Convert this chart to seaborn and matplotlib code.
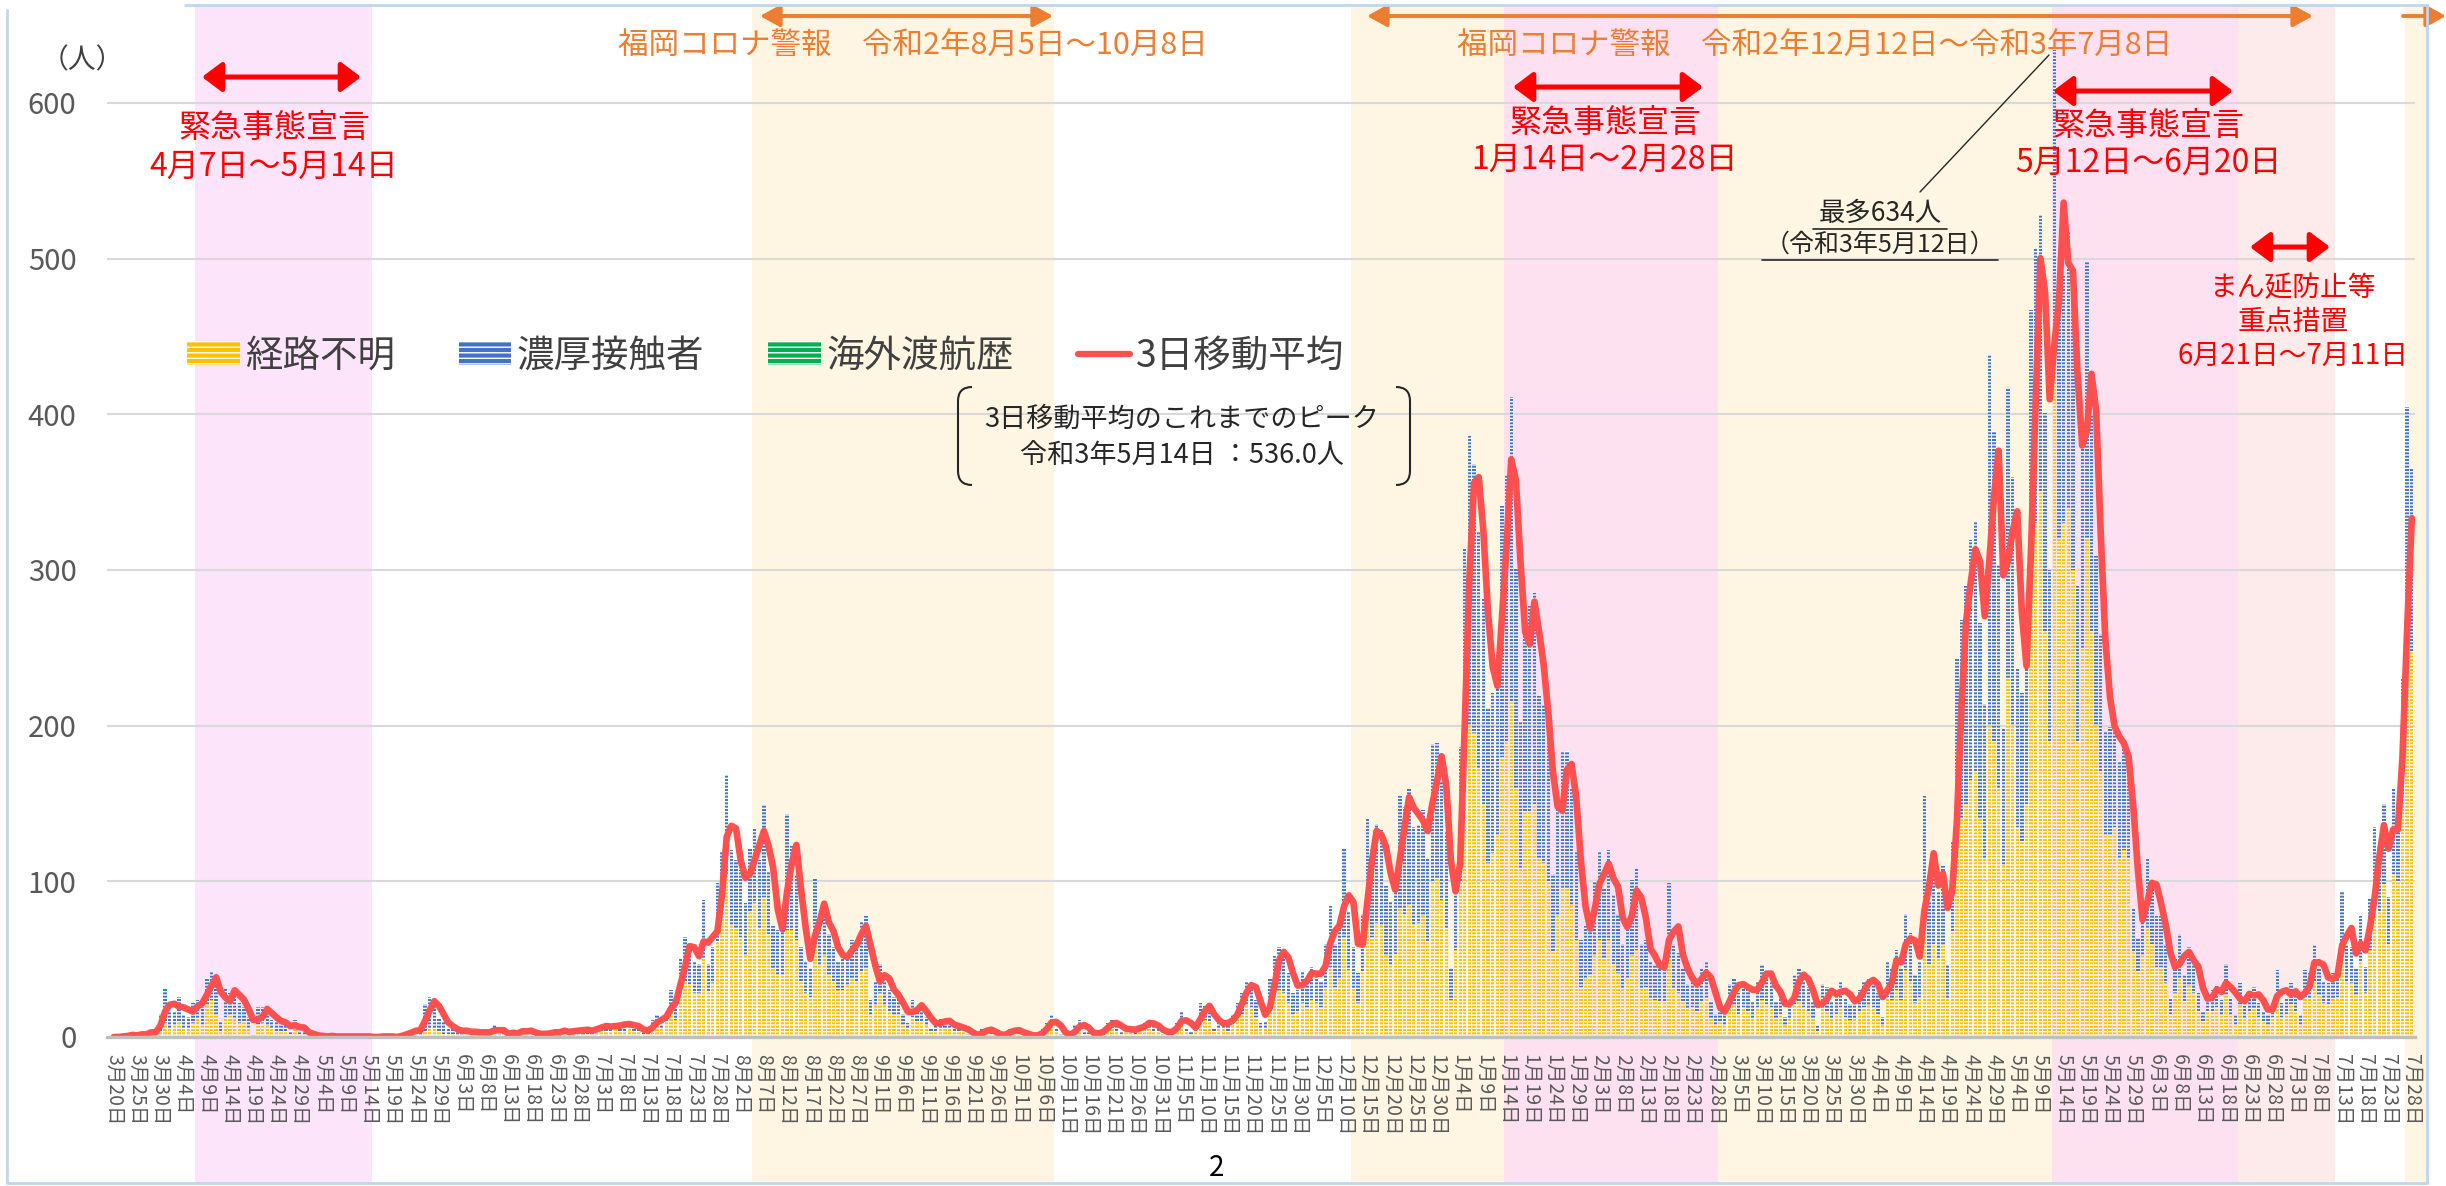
import numpy as np
import pandas as pd
import matplotlib
matplotlib.use('Agg')
import matplotlib.pyplot as plt
import seaborn as sns
from matplotlib.patches import Patch, Rectangle, FancyArrowPatch, PathPatch
from matplotlib.lines import Line2D
from matplotlib.path import Path
from matplotlib.transforms import blended_transform_factory

# ---- data: daily new cases, 2020-03-20 .. 2021-07-28 (one line per month) ----
START_DATE = '2020-03-20'

total_cases = [
    0, 0, 1, 1, 2, 0, 3, 2, 4, 3, 15, 31,                                                              # 2020-03
    16, 17, 26, 14, 13, 22, 24, 19, 38, 42, 35, 10, 31, 28, 31, 22, 19, 13, 1, 19, 19, 16, 11, 11, 9, 8, 4, 11, 4, 3,  # 04
    2, 1, 0, 1, 0, 1, 0, 0, 1, 0, 0, 1, 0, 0, 0, 0, 1, 0, 0, 0, 2, 3, 3, 6, 4, 21, 26, 22, 12, 10, 6,  # 05
    5, 4, 3, 5, 2, 3, 4, 2, 3, 8, 2, 3, 1, 4, 2, 5, 4, 3, 1, 2, 3, 2, 4, 3, 5, 2, 4, 6, 3, 5,          # 06
    4, 6, 8, 7, 5, 9, 8, 7, 10, 6, 5, 4, 3, 11, 14, 8, 17, 30, 19, 51, 64, 60, 49, 47, 88, 47, 58, 99, 119, 168, 120,  # 07
    114, 107, 86, 121, 134, 114, 149, 106, 71, 69, 68, 143, 123, 104, 58, 49, 44, 102, 75, 80, 66, 58, 49, 51, 54, 62, 62, 74, 78, 24, 36,  # 08
    47, 36, 30, 26, 25, 15, 9, 24, 19, 18, 13, 6, 8, 12, 10, 9, 5, 7, 6, 2, 1, 1, 5, 6, 3, 1, 1, 2, 6, 4,  # 09
    3, 2, 1, 0, 2, 5, 9, 14, 6, 2, 1, 1, 8, 11, 4, 3, 1, 3, 5, 9, 11, 7, 4, 5, 6, 3, 8, 9, 10, 7, 5,  # 10
    2, 3, 5, 9, 17, 6, 4, 8, 22, 20, 18, 6, 9, 11, 7, 14, 22, 28, 36, 36, 24, 9, 10, 38, 52, 58, 54, 41, 28, 30,  # 11
    42, 36, 45, 41, 36, 60, 84, 60, 71, 121, 81, 58, 41, 79, 140, 120, 137, 133, 97, 87, 100, 155, 148, 159, 135, 136, 146, 115, 188, 189, 164,  # 12
    132, 44, 105, 186, 314, 386, 368, 325, 282, 211, 221, 245, 341, 361, 411, 301, 203, 277, 277, 285, 219, 213, 191, 105, 148, 183, 184, 159, 119, 62, 71,  # 2021-01
    76, 100, 119, 95, 120, 91, 79, 60, 73, 101, 108, 60, 62, 48, 46, 44, 44, 99, 60, 54, 44, 34, 36, 32, 44, 48, 23, 15,  # 02
    19, 15, 34, 38, 28, 36, 32, 23, 36, 46, 40, 36, 23, 28, 13, 23, 40, 44, 36, 32, 23, 7, 34, 32, 23, 28, 36, 25, 21, 23, 30,  # 03
    36, 38, 36, 28, 13, 48, 44, 56, 44, 79, 67, 40, 48, 155, 87, 112, 93, 110, 46, 126, 243, 268, 290, 319, 331, 266, 214, 438, 389, 303,  # 04
    198, 416, 360, 237, 221, 257, 467, 506, 528, 401, 300, 634, 485, 489, 518, 470, 290, 380, 498, 400, 309, 259, 196, 199, 203, 177, 186, 177, 82, 63, 81,  # 05
    115, 101, 78, 78, 60, 25, 50, 66, 40, 58, 50, 28, 17, 29, 30, 33, 24, 47, 25, 14, 35, 20, 28, 32, 22, 17, 14, 22, 43, 22,  # 06
    25, 35, 28, 14, 43, 41, 59, 44, 36, 35, 41, 43, 93, 59, 58, 44, 78, 45, 89, 135, 123, 150, 90, 160, 150, 230, 405, 365,  # 07
]

unknown_route = [
    0, 0, 0, 0, 0, 0, 1, 0, 1, 1, 4, 9,
    5, 8, 10, 6, 5, 9, 12, 8, 20, 24, 14, 4, 13, 14, 12, 9, 10, 6, 0, 8, 9, 7, 5, 4, 4, 3, 2, 5, 2, 1,
    1, 0, 0, 0, 0, 1, 0, 0, 0, 0, 0, 0, 0, 0, 0, 0, 0, 0, 0, 0, 1, 1, 1, 2, 1, 4, 5, 6, 3, 2, 2,
    2, 1, 1, 2, 1, 1, 2, 1, 1, 3, 1, 1, 0, 2, 1, 2, 2, 1, 0, 1, 1, 1, 2, 1, 2, 1, 2, 3, 1, 2,
    2, 3, 4, 4, 3, 5, 4, 4, 6, 3, 3, 2, 2, 6, 8, 5, 10, 17, 11, 30, 36, 34, 28, 28, 51, 29, 35, 61, 90, 104, 72,
    70, 64, 52, 80, 86, 70, 90, 66, 44, 40, 40, 69, 69, 62, 36, 28, 26, 60, 46, 52, 40, 36, 30, 30, 33, 38, 36, 42, 44, 14, 20,
    28, 20, 17, 14, 14, 8, 5, 13, 10, 10, 7, 3, 4, 6, 5, 5, 3, 4, 3, 1, 1, 0, 3, 3, 2, 0, 1, 1, 3, 2,
    2, 1, 1, 0, 1, 3, 5, 7, 3, 1, 1, 0, 4, 6, 2, 2, 0, 2, 3, 5, 6, 4, 2, 3, 3, 2, 4, 5, 5, 4, 3,
    1, 2, 3, 5, 9, 3, 2, 4, 12, 11, 10, 3, 5, 6, 4, 7, 12, 15, 20, 19, 13, 5, 5, 20, 28, 30, 28, 22, 15, 16,
    22, 19, 24, 22, 19, 32, 45, 32, 38, 64, 43, 31, 22, 42, 75, 64, 73, 71, 52, 46, 53, 83, 79, 85, 72, 73, 78, 61, 100, 102, 88,
    70, 24, 56, 100, 170, 200, 195, 172, 150, 112, 118, 130, 180, 190, 215, 160, 108, 145, 145, 150, 115, 112, 100, 55, 78, 96, 96, 84, 62, 32, 37,
    40, 52, 62, 50, 62, 47, 41, 31, 38, 52, 56, 31, 32, 25, 24, 23, 23, 51, 31, 28, 23, 18, 19, 17, 23, 25, 12, 8,
    10, 8, 18, 20, 15, 19, 17, 12, 19, 24, 21, 19, 12, 15, 7, 12, 21, 23, 19, 17, 12, 4, 18, 17, 12, 15, 19, 13, 11, 12, 16,
    19, 20, 19, 15, 7, 26, 24, 30, 24, 43, 36, 22, 26, 84, 47, 60, 50, 59, 25, 68, 125, 140, 150, 165, 170, 140, 115, 200, 190, 160,
    110, 230, 200, 135, 125, 150, 290, 330, 350, 260, 190, 445, 320, 330, 340, 300, 190, 250, 320, 260, 200, 170, 130, 130, 135, 115, 120, 115, 55, 42, 52,
    70, 60, 45, 45, 35, 15, 28, 38, 23, 33, 28, 16, 10, 17, 17, 19, 14, 27, 14, 8, 20, 12, 16, 18, 13, 10, 8, 13, 25, 13,
    15, 21, 17, 8, 26, 25, 36, 27, 22, 21, 25, 26, 56, 36, 35, 27, 48, 28, 56, 85, 80, 98, 60, 105, 100, 155, 270, 248,
]

# overseas travel history: only the first days of the series, zero afterwards
overseas_early = [0, 0, 1, 0, 1, 0, 1, 1, 2, 1, 2, 2, 0, 2]

# shaded periods (start, end) and their kind
periods = [
    ('2020-08-05', '2020-10-08', 'alert'),
    ('2020-12-12', '2021-07-08', 'alert'),
    ('2021-07-27', '2021-07-31', 'alert'),
    ('2020-04-07', '2020-05-14', 'emergency1'),
    ('2021-01-14', '2021-02-28', 'emergency'),
    ('2021-05-12', '2021-06-20', 'emergency'),
    ('2021-06-21', '2021-07-11', 'priority'),
]

legend_labels = ['経路不明', '濃厚接触者', '海外渡航歴', '3日移動平均']

# ---- styles ----
YELLOW, BLUE, GREEN, RED = '#FFC000', '#4472C4', '#00B050', '#FF5050'
ORANGE = '#ED7D31'
SPAN_COLORS = {'alert': '#FEF6E2', 'emergency1': '#FCE4FB',
               'emergency': '#FDE1F0', 'priority': '#FDEAEA'}
W, H = 2446, 1186
PX_PER_DAY = 4.642
X0 = 114  # pixel of first bar


def fx(px):
    return px / W


def fy(py):
    return 1 - py / H


n = len(total_cases)
assert len(unknown_route) == n == 496
overseas = np.pad(np.array(overseas_early), (0, n - len(overseas_early)))

df = pd.DataFrame({'day': np.arange(n), 'total': total_cases,
                   'unknown': unknown_route, 'overseas': overseas})
df['contact'] = df['total'] - df['unknown'] - df['overseas']
df['unknown_contact'] = df['unknown'] + df['contact']
df['ma3'] = df['total'].rolling(3, min_periods=1).mean()

start = pd.Timestamp(START_DATE)
dates = pd.date_range(START_DATE, periods=n)

sns.set_style('white')
plt.rcParams['font.family'] = ['Noto Sans CJK JP', 'DejaVu Sans']
plt.rcParams['hatch.linewidth'] = 1.0

fig = plt.figure(figsize=(W / 100, H / 100), dpi=100)
xmin, xmax = -1.5, 495.6
left = X0 + xmin * PX_PER_DAY
right = X0 + xmax * PX_PER_DAY
ymax = 660
px_per_unit = (1037 - 103) / 600
ax = fig.add_axes([fx(left), fy(1037), (right - left) / W, ymax * px_per_unit / H])
ax.patch.set_alpha(0)

# ---- shaded periods, full figure height ----
blend = blended_transform_factory(ax.transData, fig.transFigure)
for s, e, kind in periods:
    d0 = (pd.Timestamp(s) - start).days - 0.5
    d1 = (pd.Timestamp(e) - start).days + 0.5
    ax.add_patch(Rectangle((d0, fy(1183)), d1 - d0, fy(5) - fy(1183), transform=blend,
                           facecolor=SPAN_COLORS[kind], edgecolor='none',
                           clip_on=False, zorder=0.1))

# ---- stacked bars ----
bar_kw = dict(width=0.72, saturation=1, errorbar=None, linewidth=0,
              edgecolor='white', hatch='-----', ax=ax)
sns.barplot(data=df, x='day', y='total', color=GREEN, **bar_kw)
sns.barplot(data=df, x='day', y='unknown_contact', color=BLUE, **bar_kw)
sns.barplot(data=df, x='day', y='unknown', color=YELLOW, **bar_kw)
for p in ax.patches:
    if isinstance(p, Rectangle) and p.get_zorder() != 0.1:
        p.set_zorder(2)

sns.lineplot(data=df, x='day', y='ma3', color=RED, linewidth=4.8, ax=ax,
             solid_capstyle='round', solid_joinstyle='round', zorder=4)

# ---- axes ----
ax.set_xlim(xmin, xmax)
ax.set_ylim(0, ymax)
ax.set_yticks(range(0, 601, 100))
ax.set_yticklabels([str(v) for v in range(0, 601, 100)], fontsize=21, color='#595959')
ax.tick_params(axis='y', length=0, pad=22)
ticks = list(range(0, n, 5))
ax.set_xticks(ticks)
ax.set_xticklabels([f'{dates[i].month}月{dates[i].day}日' for i in ticks],
                   rotation=270, fontsize=14, color='#595959', va='top', ha='center')
ax.tick_params(axis='x', length=0, pad=12)
ax.set_xlabel('')
ax.set_ylabel('')
ax.set_axisbelow(True)
ax.yaxis.grid(True, color='#D9D9D9', linewidth=1.5)
ax.xaxis.grid(False)
for side in ['left', 'right', 'top']:
    ax.spines[side].set_visible(False)
ax.spines['bottom'].set_color('#BFBFBF')
ax.spines['bottom'].set_linewidth(2.4)
ax.spines['bottom'].set_zorder(5)

fig.text(fx(82), fy(60), '（人）', ha='center', va='center', fontsize=20, color='#404040')

# ---- legend ----
handles = [Patch(facecolor=YELLOW, edgecolor='white', hatch='---', linewidth=0),
           Patch(facecolor=BLUE, edgecolor='white', hatch='---', linewidth=0),
           Patch(facecolor=GREEN, edgecolor='white', hatch='---', linewidth=0),
           Line2D([0], [0], color=RED, linewidth=4.5)]
ax.legend(handles, legend_labels, ncol=4, loc='center left',
          bbox_to_anchor=(fx(187), fy(356)), bbox_transform=fig.transFigure,
          frameon=False, fontsize=27, handlelength=1.4, handleheight=0.6,
          handletextpad=0.15, columnspacing=1.7, borderpad=0, borderaxespad=0,
          labelcolor='#404040')


# ---- arrows and annotations ----
def arrow(x0, x1, y, color, lw, style, scale=12):
    a = FancyArrowPatch((fx(x0), fy(y)), (fx(x1), fy(y)), transform=fig.transFigure,
                        arrowstyle=style, mutation_scale=scale, linewidth=lw,
                        color=color, shrinkA=0, shrinkB=0)
    fig.add_artist(a)


orange_style = '<|-|>,head_length=1.0,head_width=0.55'
arrow(760, 1053, 16, ORANGE, 2.8, orange_style)
arrow(1367, 2313, 16, ORANGE, 2.8, orange_style)
arrow(2403, 2446, 16, ORANGE, 2.8, '-|>,head_length=1.0,head_width=0.55')
red_style = '<|-|>,head_length=1.0,head_width=0.75'
for x0, x1, y in [(202, 361, 77), (1513, 1703, 87), (2053, 2233, 91), (2250, 2330, 247)]:
    arrow(x0, x1, y, 'red', 3.6, red_style)

fig.text(fx(618), fy(45), '福岡コロナ警報　令和2年8月5日～10月8日', ha='left', va='center',
         fontsize=22, color=ORANGE)
fig.text(fx(1457), fy(45), '福岡コロナ警報　令和2年12月12日～令和3年7月8日', ha='left',
         va='center', fontsize=22, color=ORANGE)

for cx, y1, y2, period in [(274, 128, 167, '4月7日～5月14日'),
                           (1605, 123, 160, '1月14日～2月28日'),
                           (2148, 126, 163, '5月12日～6月20日')]:
    fig.text(fx(cx), fy(y1), '緊急事態宣言', ha='center', va='center', fontsize=23, color='red')
    fig.text(fx(cx), fy(y2), period, ha='center', va='center', fontsize=23, color='red')
fig.text(fx(2293), fy(288), 'まん延防止等', ha='center', va='center', fontsize=20, color='red')
fig.text(fx(2293), fy(322), '重点措置', ha='center', va='center', fontsize=20, color='red')
fig.text(fx(2293), fy(356), '6月21日～7月11日', ha='center', va='center', fontsize=20, color='red')

# peak note with brackets
fig.text(fx(1182), fy(419), '3日移動平均のこれまでのピーク', ha='center', va='center',
         fontsize=19.5, color='#262626')
fig.text(fx(1182), fy(456), '令和3年5月14日 ：536.0人', ha='center', va='center',
         fontsize=19.5, color='#262626')
for bx, sgn in [(958, 1), (1410, -1)]:
    t, b, c = 387, 485, 14 * sgn
    verts = [(bx + c, t), (bx, t), (bx, t + 14), (bx, b - 14), (bx, b), (bx + c, b)]
    codes = [Path.MOVETO, Path.CURVE3, Path.CURVE3, Path.LINETO, Path.CURVE3, Path.CURVE3]
    path = Path([(fx(x), fy(y)) for x, y in verts], codes)
    fig.add_artist(PathPatch(path, transform=fig.transFigure, facecolor='none',
                             edgecolor='#262626', linewidth=1.5))

# max-day note
fig.text(fx(1880), fy(213), '最多634人', ha='center', va='center', fontsize=19, color='#262626')
fig.text(fx(1880), fy(245), '（令和3年5月12日）', ha='center', va='center', fontsize=18,
         color='#262626')
for x0, x1, y in [(1813, 1947, 229), (1762, 1998, 260)]:
    fig.add_artist(Line2D([fx(x0), fx(x1)], [fy(y), fy(y)], transform=fig.transFigure,
                          color='#262626', linewidth=1.2))
fig.add_artist(Line2D([fx(1920), fx(2049)], [fy(192), fy(55)], transform=fig.transFigure,
                      color='#262626', linewidth=1.0))

# page number and frame
fig.text(fx(1217), fy(1168), '2', ha='center', va='center', fontsize=20, color='black')
frame = '#BDD7EE'
for xs, ys in [((185, 2427), (5, 5)), ((7, 7), (10, 1183)), ((7, 2427), (1183, 1183)),
               ((2427, 2427), (5, 1183))]:
    fig.add_artist(Line2D([fx(xs[0]), fx(xs[1])], [fy(ys[0]), fy(ys[1])],
                          transform=fig.transFigure, color=frame, linewidth=2))

fig.savefig('out.png', dpi=100)
plt.close(fig)
